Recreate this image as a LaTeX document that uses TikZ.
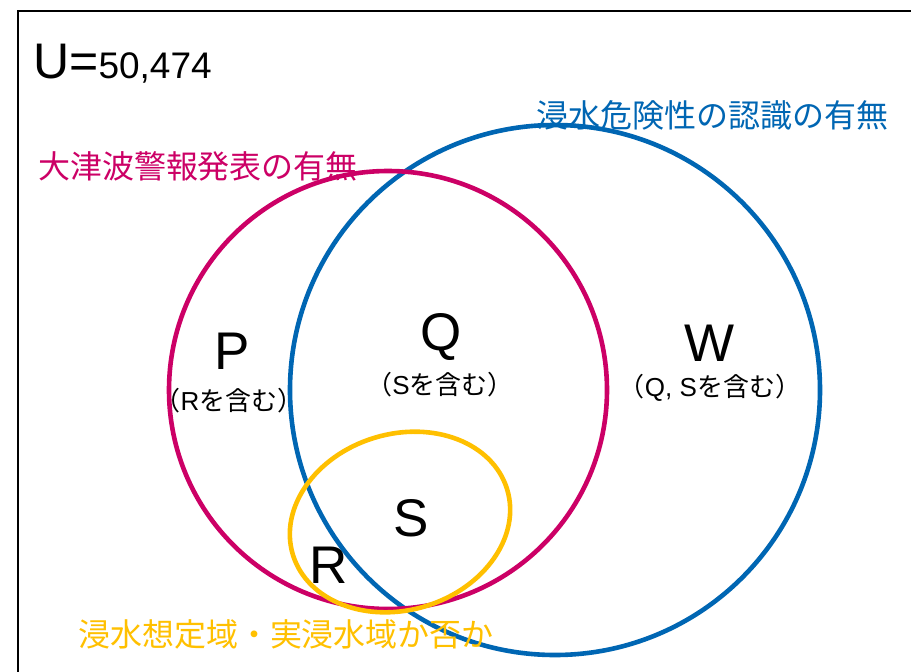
\documentclass[tikz,border=0pt]{standalone}
\usepackage{fontspec}
\setmainfont{Liberation Sans}
\newfontfamily\jp{Noto Sans CJK JP}
\usetikzlibrary{shapes.geometric}
\definecolor{mag}{RGB}{204,0,102}
\definecolor{blu}{RGB}{0,102,179}
\definecolor{yel}{RGB}{255,192,0}
\tikzset{
  setring/.style={circle, draw=#1, line width=4.6pt, inner sep=0pt},
  big/.style={font=\fontsize{53}{53}\selectfont, inner sep=0pt},
  sub/.style={font=\fontsize{26}{26}\selectfont, inner sep=0pt},
  title/.style={font=\jp\fontsize{32}{32}\selectfont, inner sep=0pt, text=#1},
}
\begin{document}
\begin{tikzpicture}[x=1pt,y=-1pt]
\useasboundingbox (0,0) rectangle (911,672);
\fill[white] (0,0) rectangle (911,672);
\coordinate (fb) at (18,672);
\coordinate (fc) at (18,11);
\coordinate (fr) at (911,11);
\draw[line width=2pt] (fb) -- (fc) -- (fr);
% sets
\node[setring=blu, minimum size=530pt] (Wc) at (555,390) {};
\node[setring=mag, minimum size=438pt] (Pc) at (388,390) {};
\node[ellipse, draw=yel, line width=4.6pt, inner sep=0pt, minimum width=224pt, minimum height=176pt, rotate=17] (Sc) at (400,522) {};
% universe
\node[anchor=base west, inner sep=0pt] (U) at (33,78) {\fontsize{50}{50}\selectfont U=\fontsize{37}{37}\selectfont 50,474};
% titles
\node[title=blu] (tW) at (712,115) {浸水危険性の認識の有無};
\node[title=mag] (tP) at (198,166) {大津波警報発表の有無};
\node[title=yel] (tS) at (286,634) {浸水想定域・実浸水域か否か};
% region labels
\node[big] (P) at (232,351) {P};
\node[sub] (Psub) at (229,401) {{\jp （}R{\jp を含む）}};
\node[big] (Q) at (441,337) {Q};
\node[sub] (Qsub) at (440,385) {{\jp （}S{\jp を含む）}};
\node[big] (W) at (710,343) {W};
\node[sub] (Wsub) at (710,388) {{\jp （}Q, S{\jp を含む）}};
\node[big] (S) at (411,518) {S};
\node[big] (R) at (329,565) {R};
\end{tikzpicture}
\end{document}
